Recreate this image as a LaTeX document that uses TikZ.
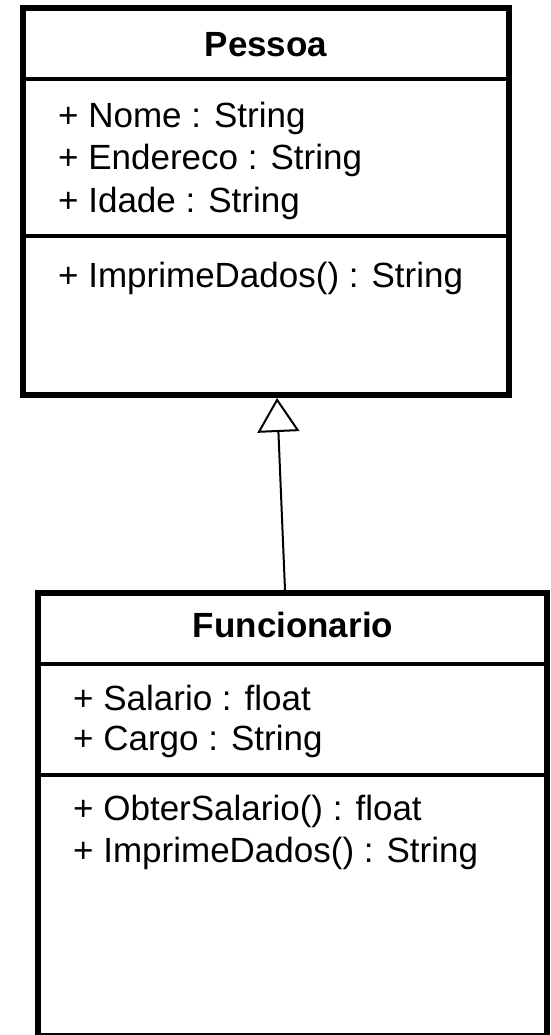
\documentclass[tikz,border=0pt]{standalone}
\usepackage{fontspec}
\setmainfont{Liberation Sans}
\usetikzlibrary{arrows.meta}

\begin{document}
\begin{tikzpicture}[x=1pt, y=-1pt,
  classbox/.style={draw=black, line width=6pt, rectangle, inner sep=0pt, fill=white},
  divider/.style={draw=black, line width=3.5pt},
  member/.style={anchor=base west, inner sep=0pt, font=\fontsize{35}{42}\selectfont},
  classname/.style={anchor=base, inner sep=0pt, font=\fontsize{35}{42}\selectfont\bfseries},
  inherit/.style={draw=black, line width=2pt,
    -{Triangle[open, length=34pt, width=42pt, line width=2pt]}}]
  \useasboundingbox (0,0) rectangle (550,1035);

  % class Pessoa
  \node[classbox, minimum width=486pt, minimum height=387pt] (pessoa) at (266,201.5) {};
  \node[classname] (pessoaName) at (266,57) {Pessoa};
  \draw[divider] (pessoa.west |- 0,79) -- (pessoa.east |- 0,79);
  \node[member] (pNome) at (58,128) {+ Nome : String};
  \node[member] (pEnd) at (58,170) {+ Endereco : String};
  \node[member] (pIdade) at (58,212) {+ Idade : String};
  \draw[divider] (pessoa.west |- 0,236) -- (pessoa.east |- 0,236);
  \node[member] (pImp) at (58,287) {+ ImprimeDados() : String};

  % class Funcionario
  \node[classbox, minimum width=509pt, minimum height=443pt] (funcionario) at (292.5,814.5) {};
  \node[classname] (funcName) at (293,637) {Funcionario};
  \draw[divider] (funcionario.west |- 0,664) -- (funcionario.east |- 0,664);
  \node[member] (fSal) at (73,710) {+ Salario : float};
  \node[member] (fCargo) at (73,750) {+ Cargo : String};
  \draw[divider] (funcionario.west |- 0,775) -- (funcionario.east |- 0,775);
  \node[member] (fObt) at (73,820) {+ ObterSalario() : float};
  \node[member] (fImp) at (73,862) {+ ImprimeDados() : String};

  % generalization
  \draw[inherit] ([xshift=-7.5pt]funcionario.north) -- ([xshift=11pt]pessoa.south);
\end{tikzpicture}
\end{document}
